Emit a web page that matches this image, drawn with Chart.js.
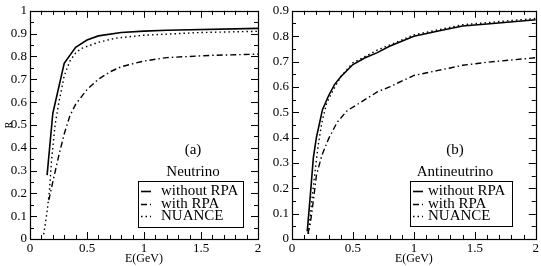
<!DOCTYPE html>
<html>
<head>
<meta charset="utf-8">
<script src="https://cdn.jsdelivr.net/npm/chart.js@4/dist/chart.umd.min.js"></script>
<style>
  html, body { margin: 0; padding: 0; background: #fff; }
  #wrap { position: relative; width: 541px; height: 266px; }
  #wrap canvas { position: absolute; top: 0; }
</style>
</head>
<body>
<div id="wrap">
  <canvas id="nu" width="270" height="266" style="left:0"></canvas>
  <canvas id="anu" width="271" height="266" style="left:270px"></canvas>
</div>
<script>
// R versus E(GeV), (a) Neutrino and (b) Antineutrino
// three curves in each panel: without RPA, with RPA, NUANCE

var seriesNames = ['without RPA', 'with RPA', 'NUANCE'];

// (a) Neutrino
var nuE_noRPA = [0.15, 0.2, 0.3, 0.4, 0.5, 0.6, 0.8, 1.0, 1.2, 2.0];
var nuR_noRPA = [0.28, 0.55, 0.77, 0.84, 0.872, 0.89, 0.905, 0.911, 0.915, 0.923];
var nuE_RPA = [0.165, 0.2, 0.25, 0.3, 0.35, 0.4, 0.5, 0.6, 0.7, 0.8, 1.0, 1.2, 1.6, 2.0];
var nuR_RPA = [0.17, 0.25, 0.36, 0.46, 0.54, 0.59, 0.655, 0.7, 0.732, 0.755, 0.78, 0.795, 0.805, 0.81];
var nuE_nuance = [0.12, 0.15, 0.17, 0.19, 0.22, 0.25, 0.3, 0.35, 0.4, 0.45, 0.6, 0.75, 1.0, 1.5, 2.0];
var nuR_nuance = [0.02, 0.12, 0.21, 0.35, 0.5, 0.59, 0.715, 0.78, 0.815, 0.835, 0.862, 0.88, 0.893, 0.905, 0.91];

// (b) Antineutrino
var anE_noRPA = [0.125, 0.15, 0.175, 0.2, 0.25, 0.3, 0.35, 0.4, 0.5, 0.6, 0.7, 0.8, 0.9, 1.0, 1.2, 1.4, 1.6, 2.0];
var anR_noRPA = [0.03, 0.17, 0.32, 0.4, 0.51, 0.565, 0.61, 0.64, 0.688, 0.715, 0.735, 0.76, 0.78, 0.8, 0.82, 0.84, 0.848, 0.865];
var anE_RPA = [0.13, 0.15, 0.175, 0.2, 0.245, 0.3, 0.37, 0.45, 0.55, 0.7, 0.8, 1.0, 1.2, 1.4, 1.6, 2.0];
var anR_RPA = [0.02, 0.06, 0.15, 0.25, 0.33, 0.395, 0.46, 0.505, 0.535, 0.58, 0.6, 0.645, 0.665, 0.685, 0.697, 0.715];
var anE_nuance = [0.135, 0.16, 0.19, 0.215, 0.245, 0.285, 0.33, 0.4, 0.5, 0.7, 1.0, 1.4, 2.0];
var anR_nuance = [0.02, 0.14, 0.27, 0.37, 0.46, 0.537, 0.58, 0.64, 0.695, 0.745, 0.805, 0.845, 0.87];

var serif = '"Liberation Serif", "DejaVu Serif", serif';
var dashes = [[], [6, 3, 1.5, 3], [1.5, 3]];

function pts(xs, ys) {
  return xs.map(function (e, i) { return { x: e, y: ys[i] }; });
}

function makeSets(lists) {
  return lists.map(function (d, i) {
    return {
      label: seriesNames[i],
      data: pts(d[0], d[1]),
      borderColor: '#000',
      borderWidth: i == 0 ? 1.6 : 1.4,
      borderDash: dashes[i],
      pointRadius: 0,
      tension: 0,
      fill: false
    };
  });
}

// tick label like grace: 1 not 1.0
function plainNum(v) {
  return String(+v.toFixed(2));
}

// frame + inward ticks on all four sides
var frameTicks = {
  id: 'frameTicks',
  afterDatasetsDraw: function (chart) {
    var ctx = chart.ctx, a = chart.chartArea;
    var xs = chart.scales.x, ys = chart.scales.y;
    ctx.save();
    ctx.strokeStyle = '#000';
    ctx.lineWidth = 1;
    ctx.beginPath();
    var i, v, p, len;
    for (i = 0; i <= 20; i++) {
      v = i * 0.1;
      p = Math.round(xs.getPixelForValue(v)) + 0.5;
      len = i % 5 == 0 ? 7 : 4;
      ctx.moveTo(p, a.bottom); ctx.lineTo(p, a.bottom - len);
      ctx.moveTo(p, a.top); ctx.lineTo(p, a.top + len);
    }
    var n = Math.round(ys.max / 0.05);
    for (i = 0; i <= n; i++) {
      v = i * 0.05;
      p = Math.round(ys.getPixelForValue(v)) + 0.5;
      len = i % 2 == 0 ? 7 : 4;
      ctx.moveTo(a.left, p); ctx.lineTo(a.left + len, p);
      ctx.moveTo(a.right, p); ctx.lineTo(a.right - len, p);
    }
    ctx.stroke();
    ctx.lineWidth = 1.2;
    ctx.strokeRect(Math.round(a.left) + 0.5, Math.round(a.top) + 0.5,
      Math.round(a.right - a.left), Math.round(a.bottom - a.top));
    ctx.restore();
  }
};

// panel tag, name and boxed legend
var panelText = {
  id: 'panelText',
  afterDraw: function (chart, args, o) {
    var ctx = chart.ctx;
    ctx.save();
    ctx.fillStyle = '#000';
    ctx.textAlign = 'center';
    ctx.textBaseline = 'middle';
    ctx.font = '15px ' + serif;
    ctx.fillText(o.tag, o.cx, 150);
    ctx.fillText(o.name, o.cx, 172);
    var b = o.box;
    ctx.strokeStyle = '#000';
    ctx.lineWidth = 1;
    ctx.strokeRect(b[0] + 0.5, b[1] + 0.5, b[2] - b[0], b[3] - b[1]);
    ctx.textAlign = 'left';
    chart.data.datasets.forEach(function (ds, i) {
      var y = 191 + i * 12.5;
      ctx.setLineDash(ds.borderDash);
      ctx.lineWidth = ds.borderWidth;
      ctx.beginPath();
      ctx.moveTo(o.sample[0], Math.round(y) + 0.5);
      ctx.lineTo(o.sample[1], Math.round(y) + 0.5);
      ctx.stroke();
      ctx.setLineDash([]);
      ctx.fillText(ds.label, o.textX, y + 0.5);
    });
    ctx.restore();
  }
};

function makeChart(id, sets, ymax, yw, padR, yTitle, txt) {
  return new Chart(document.getElementById(id), {
    type: 'line',
    data: { datasets: sets },
    options: {
      responsive: false,
      animation: false,
      layout: { padding: { top: 6, right: padR, left: 0, bottom: 0 } },
      plugins: {
        legend: { display: false },
        tooltip: { enabled: false },
        panelText: txt
      },
      scales: {
        x: {
          type: 'linear', min: 0, max: 2,
          grid: { display: false, drawTicks: false, tickLength: 0 },
          border: { display: false },
          ticks: { stepSize: 0.5, padding: 2, color: '#000', maxRotation: 0,
                   callback: plainNum,
                   font: { family: serif, size: 13 } },
          title: { display: true, text: 'E(GeV)', color: '#000', padding: 0,
                   font: { family: serif, size: 12 } },
          afterFit: function (s) { s.height = 27; }
        },
        y: {
          type: 'linear', min: 0, max: ymax,
          grid: { display: false, drawTicks: false, tickLength: 0 },
          border: { display: false },
          ticks: { stepSize: 0.1, padding: 3, color: '#000',
                   callback: plainNum,
                   font: { family: serif, size: 13 } },
          title: { display: yTitle != '', text: yTitle, color: '#000',
                   padding: { top: 3, bottom: 0 },
                   font: { family: serif, size: 10 } },
          afterFit: function (s) { s.width = yw; }
        }
      }
    },
    plugins: [frameTicks, panelText]
  });
}

makeChart('nu', makeSets([[nuE_noRPA, nuR_noRPA], [nuE_RPA, nuR_RPA], [nuE_nuance, nuR_nuance]]),
  1, 30, 12, 'R',
  { tag: '(a)', name: 'Neutrino', cx: 193, box: [138, 181, 243, 227], sample: [141, 151], textX: 161 });

makeChart('anu', makeSets([[anE_noRPA, anR_noRPA], [anE_RPA, anR_RPA], [anE_nuance, anR_nuance]]),
  0.9, 22, 5, '',
  { tag: '(b)', name: 'Antineutrino', cx: 185, box: [140, 181, 242, 226], sample: [143, 153], textX: 158 });
</script>
</body>
</html>
